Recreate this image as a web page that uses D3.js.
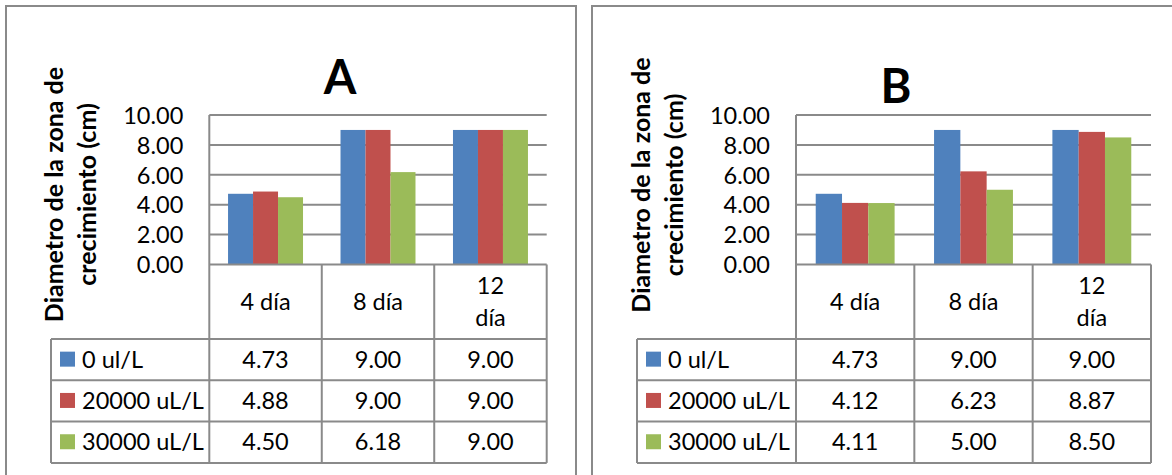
<!DOCTYPE html>
<html><head><meta charset="utf-8">
<script src="https://cdn.jsdelivr.net/npm/d3@7"></script>
<style>
html,body{margin:0;padding:0;background:#fff;}
svg{display:block;}
text{font-family:Lato,"Open Sans",sans-serif;fill:#000;}
</style></head><body>
<svg id="chart" width="1172" height="475"></svg>
<script>
// Growth-zone diameter by day and concentration, two experiments (A, B)
const categories = ["4 día", "8 día", "12 día"];
const seriesNames = ["0 ul/L", "20000 uL/L", "30000 uL/L"];
const seriesColors = ["#4F81BD", "#C0504D", "#9BBB59"];
const yTickValues = [0, 2, 4, 6, 8, 10];
const yAxisTitle = ["Diametro de la zona de", "crecimiento (cm)"];
const panelTitles = ["A", "B"];

const valuesA_0 = [4.73, 9.00, 9.00];
const valuesA_20000 = [4.88, 9.00, 9.00];
const valuesA_30000 = [4.50, 6.18, 9.00];
const valuesB_0 = [4.73, 9.00, 9.00];
const valuesB_20000 = [4.12, 6.23, 8.87];
const valuesB_30000 = [4.11, 5.00, 8.50];

const panels = [
  { title: panelTitles[0], series: [valuesA_0, valuesA_20000, valuesA_30000],
    frame: {x: 6, y: 6, w: 570}, plot: {left: 209.3, right: 546.7, top: 115, bottom: 264.5},
    legendLeft: 51, titleX: 340, titleY: 94, yTitleCY: 194.5 },
  { title: panelTitles[1], series: [valuesB_0, valuesB_20000, valuesB_30000],
    frame: {x: 592, y: 6, w: 620}, plot: {left: 796, right: 1151, top: 115, bottom: 264.5},
    legendLeft: 637, titleX: 896, titleY: 103, yTitleCY: 185 }
];

const LINE = "#8a8a8a";
const FS = 23.5;          // body text size
const rowTop = 339, rowH = 41.3, nRows = seriesNames.length;
const tableBottom = rowTop + rowH * nRows;

const svg = d3.select("#chart");

panels.forEach(p => {
  const g = svg.append("g");

  // chart frame (bottom edge runs past the page)
  g.append("rect")
    .attr("x", p.frame.x).attr("y", p.frame.y)
    .attr("width", p.frame.w).attr("height", 600)
    .attr("fill", "none").attr("stroke", LINE).attr("stroke-width", 2);

  const y = d3.scaleLinear().domain([0, 10]).range([p.plot.bottom, p.plot.top]);
  const x0 = d3.scaleBand().domain(categories).range([p.plot.left, p.plot.right]).padding(0);
  const bw = x0.bandwidth();
  const x1 = d3.scaleBand().domain(seriesNames.map((d, i) => i))
    .range([bw / 6, bw - bw / 6]).padding(0);

  // gridlines
  g.append("g").selectAll("line").data(yTickValues.filter(v => v > 0)).join("line")
    .attr("x1", p.plot.left).attr("x2", p.plot.right)
    .attr("y1", d => y(d)).attr("y2", d => y(d))
    .attr("stroke", LINE).attr("stroke-width", 2);

  // tick labels
  const yAxis = d3.axisLeft(y).tickValues(yTickValues).tickFormat(d3.format(".2f")).tickSize(0).tickPadding(26);
  const ax = g.append("g").attr("transform", `translate(${p.plot.left},0)`).call(yAxis);
  ax.select(".domain").remove();
  ax.selectAll("text").attr("font-size", FS).attr("font-family", "Lato,'Open Sans',sans-serif").attr("fill", "#000").attr("dy", "0.35em");

  // bars
  const groups = g.append("g").selectAll("g").data(categories).join("g")
    .attr("transform", d => `translate(${x0(d)},0)`);
  groups.selectAll("rect").data((c, ci) => p.series.map((s, si) => ({si, v: s[ci]}))).join("rect")
    .attr("x", d => x1(d.si)).attr("width", x1.bandwidth())
    .attr("y", d => y(d.v)).attr("height", d => y(0) - y(d.v))
    .attr("fill", d => seriesColors[d.si]);

  // data table lines
  const tl = g.append("g").attr("stroke", LINE).attr("stroke-width", 2);
  tl.append("line").attr("x1", p.plot.left).attr("x2", p.plot.right).attr("y1", y(0)).attr("y2", y(0));
  d3.range(nRows + 1).forEach(i => {
    tl.append("line").attr("x1", p.legendLeft).attr("x2", p.plot.right)
      .attr("y1", rowTop + i * rowH).attr("y2", rowTop + i * rowH);
  });
  d3.range(categories.length + 1).forEach(k => {
    const xx = p.plot.left + k * bw;
    tl.append("line").attr("x1", xx).attr("x2", xx)
      .attr("y1", k === 0 ? p.plot.top : y(0)).attr("y2", tableBottom);
  });
  tl.append("line").attr("x1", p.legendLeft).attr("x2", p.legendLeft).attr("y1", rowTop).attr("y2", tableBottom);

  // category header, wrapped when wider than the cell allows
  categories.forEach(c => {
    const cx = x0(c) + bw / 2, cy = (y(0) + rowTop) / 2;
    const t = g.append("text").attr("x", cx).attr("text-anchor", "middle").attr("font-size", FS);
    t.text(c);
    const lines = t.node().getComputedTextLength() > 56 ? c.split(" ") : [c];
    t.text(null);
    const lh = 32;
    lines.forEach((ln, i) => {
      t.append("tspan").attr("x", cx)
        .attr("y", cy + (i - (lines.length - 1) / 2) * lh).attr("dy", "0.35em").text(ln);
    });
  });

  // table rows: legend key + values
  seriesNames.forEach((name, si) => {
    const cy = rowTop + si * rowH + rowH / 2;
    g.append("rect").attr("x", p.legendLeft + 9).attr("y", cy - 8)
      .attr("width", 15).attr("height", 15).attr("fill", seriesColors[si]);
    g.append("text").attr("x", p.legendLeft + 31).attr("y", cy).attr("dy", "0.35em")
      .attr("font-size", FS).text(name);
    p.series[si].forEach((v, ci) => {
      g.append("text").attr("x", x0(categories[ci]) + bw / 2).attr("y", cy).attr("dy", "0.35em")
        .attr("text-anchor", "middle").attr("font-size", FS).text(d3.format(".2f")(v));
    });
  });

  // panel title
  g.append("text").attr("x", p.titleX).attr("y", p.titleY).attr("text-anchor", "middle")
    .attr("font-size", 47).attr("font-weight", 700).text(p.title);

  // y-axis title, two rotated lines
  const yt = g.append("text").attr("transform", `translate(${p.plot.left - 146},${p.yTitleCY}) rotate(-90)`)
    .attr("text-anchor", "middle").attr("font-size", 25).attr("font-weight", 700);
  yAxisTitle.forEach((ln, i) => {
    yt.append("tspan").attr("x", 0).attr("y", i * 33).text(ln);
  });
});
</script>
</body></html>
